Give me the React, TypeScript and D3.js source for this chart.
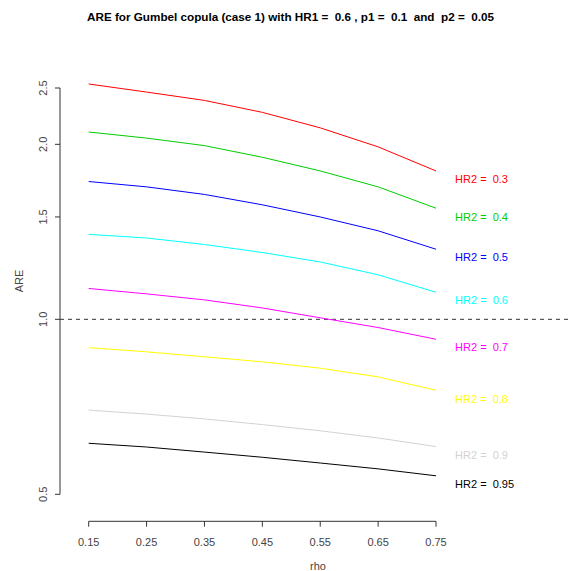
import React from "react";
import * as d3 from "d3";

const rho = [0.15, 0.25, 0.35, 0.45, 0.55, 0.65, 0.75];
const hr2Labels = ["0.3", "0.4", "0.5", "0.6", "0.7", "0.8", "0.9", "0.95"];
const seriesColors = ["#FF0000", "#00CD00", "#0000FF", "#00FFFF", "#FF00FF", "#FFFF00", "#D3D3D3", "#000000"];
const are03 = [2.54, 2.46, 2.38, 2.27, 2.135, 1.98, 1.8];
const are04 = [2.1, 2.05, 1.99, 1.9, 1.8, 1.69, 1.553];
const are05 = [1.726, 1.69, 1.64, 1.574, 1.5, 1.42, 1.32];
const are06 = [1.4, 1.38, 1.345, 1.303, 1.255, 1.193, 1.113];
const are07 = [1.13, 1.106, 1.08, 1.046, 1.006, 0.968, 0.924];
const are08 = [0.894, 0.879, 0.862, 0.845, 0.824, 0.796, 0.755];
const are09 = [0.698, 0.687, 0.674, 0.659, 0.643, 0.625, 0.604];
const are095 = [0.612, 0.603, 0.591, 0.579, 0.566, 0.553, 0.538];
const seriesValues = [are03, are04, are05, are06, are07, are08, are09, are095];
const labelAtARE = [1.743, 1.5, 1.277, 1.077, 0.894, 0.729, 0.584, 0.52];
const labelAtRho = 0.783;
const xTicks = [0.15, 0.25, 0.35, 0.45, 0.55, 0.65, 0.75];
const yTicks = [0.5, 1.0, 1.5, 2.0, 2.5];
const refLine = 1.0;
const title = "ARE for Gumbel copula (case 1) with HR1 =  0.6 , p1 =  0.1  and  p2 =  0.05";

export default function App() {
  const W = 571, H = 571;
  const x = d3.scaleLinear().domain([0.15, 0.75]).range([88.7, 436]);
  const y = d3.scaleLog().domain([0.5, 2.5]).range([494.3, 88]);
  const line = d3.line<number>().x((_, i) => x(rho[i])).y((d) => y(d));
  const font = "'Liberation Sans', Arial, sans-serif";
  const axisColor = "#333";
  return (
    <svg width={W} height={H} style={{ position: "absolute", left: 0, top: 0, background: "#fff" }} fontFamily={font}>
      <rect x={0} y={0} width={W} height={H} fill="#fff" />
      <text x={290.5} y={21} textAnchor="middle" fontWeight="bold" fontSize={11.7} fill="#000" style={{ whiteSpace: "pre" }}>
        {title}
      </text>
      {/* reference line */}
      <line x1={60} x2={571} y1={y(refLine)} y2={y(refLine)} stroke={axisColor} strokeDasharray="4,4" strokeWidth={1} />
      {/* series */}
      {seriesValues.map((vals, i) => (
        <path key={i} d={line(vals) || ""} fill="none" stroke={seriesColors[i]} strokeWidth={1} />
      ))}
      {/* labels */}
      {hr2Labels.map((lab, i) => (
        <text key={i} x={x(labelAtRho)} y={y(labelAtARE[i])} dy="0.35em" fontSize={11} fill={seriesColors[i]} style={{ whiteSpace: "pre" }}>
          {"HR2 =  " + lab}
        </text>
      ))}
      {/* y axis */}
      <line x1={60} x2={60} y1={y(2.5)} y2={y(0.5)} stroke={axisColor} />
      {yTicks.map((t) => (
        <g key={t}>
          <line x1={55} x2={60} y1={y(t)} y2={y(t)} stroke={axisColor} />
          <text transform={`translate(47,${y(t)}) rotate(-90)`} textAnchor="middle" fontSize={11} fill="#444">
            {t.toFixed(1)}
          </text>
        </g>
      ))}
      <text transform={`translate(23,281) rotate(-90)`} textAnchor="middle" fontSize={11} fill="#444">ARE</text>
      {/* x axis */}
      <line x1={x(0.15)} x2={x(0.75)} y1={521.3} y2={521.3} stroke={axisColor} />
      {xTicks.map((t) => (
        <g key={t}>
          <line x1={x(t)} x2={x(t)} y1={521.3} y2={526.7} stroke={axisColor} />
          <text x={x(t)} y={546} textAnchor="middle" fontSize={11} fill="#444">
            {t.toFixed(2)}
          </text>
        </g>
      ))}
      <text x={318} y={570} textAnchor="middle" fontSize={11} fill="#444">rho</text>
    </svg>
  );
}
